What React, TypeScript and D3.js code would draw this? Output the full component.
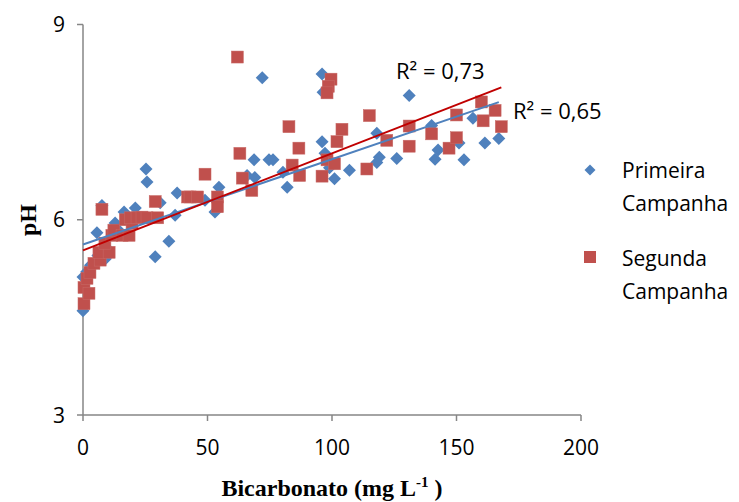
import React from "react";
import * as d3 from "d3";

const primeiraX = [0,0,1.5,3,5.6,7.6,9,6,10,12.9,14,16.5,18,21,25.3,25.7,29,31,34.5,37,37.8,49,53,54.6,65.9,69,68.7,72,74.7,76.3,80.3,82,96,96.4,96,97.2,99,101,107,118,119,118,126,131,140,142.6,141.4,151,153,156.6,161.4,167];
const primeiraY = [4.6,5.12,5.2,5.3,5.8,6.22,5.4,5.45,5.55,5.95,5.85,6.12,6.0,6.18,6.78,6.58,5.43,6.26,5.67,6.07,6.41,6.3,6.12,6.5,6.68,6.65,6.92,8.18,6.92,6.92,6.73,6.5,8.24,7.96,7.2,7.02,6.8,6.63,6.76,7.33,6.96,6.88,6.94,7.91,7.45,7.07,6.93,7.18,6.92,7.56,7.18,7.25];

const segundaX = [0.4,0.4,2.4,1.6,2.8,4.4,6.9,6.4,10.5,8.8,7.6,11.6,12.4,15.7,18.5,17,19.7,19,21.7,23.7,25.7,29,30,42,43,46,49,54,54,62,63,64,67.8,82.7,84,86.7,87,96,98,101,102,104,99.6,98.5,98,114,115,122,131,131,140,147,150,150,160,160.7,165.5,168];
const segundaY = [4.71,4.96,4.87,5.1,5.19,5.33,5.38,5.5,5.5,5.64,6.16,5.76,5.84,5.76,5.76,6.0,5.95,6.03,6.03,6.04,6.03,6.28,6.03,6.35,6.35,6.35,6.7,6.35,6.2,8.5,7.02,6.64,6.45,7.43,6.84,7.1,6.68,6.67,6.92,6.86,7.2,7.39,8.16,8.05,7.95,6.78,7.6,7.22,7.44,7.13,7.32,7.1,7.61,7.26,7.81,7.52,7.68,7.43];

// trend lines: [intercept, slope, xEnd]
const trendPrimeira = [5.62, 0.0131, 167];
const trendSegunda = [5.53, 0.0149, 168];

const xTicks = [0, 50, 100, 150, 200];
const yTicks = [3, 6, 9];
const seriesNames = ["Primeira Campanha", "Segunda Campanha"];
const r2Labels = ["R² = 0,65", "R² = 0,73"];

const W = 739, H = 502;
const left = 83, right = 581, top = 24.5, bottom = 415;
const BLUE = "#4F81BD", RED = "#C0504D";
const font = "'Open Sans', sans-serif";

export default function App() {
  const x = d3.scaleLinear().domain([0, 200]).range([left, right]);
  const y = d3.scaleLinear().domain([3, 9]).range([bottom, top]);
  const line = (t: number[]) => {
    const gen = d3.line<number>().x(v => x(v)).y(v => y(t[0] + t[1] * v));
    return gen([0, t[2]]) || "";
  };
  const diamond = (cx: number, cy: number, r = 6.5) =>
    `M${cx},${cy - r}L${cx + r},${cy}L${cx},${cy + r}L${cx - r},${cy}Z`;
  const sq = 12;
  return (
    <svg width={W} height={H} style={{ position: "absolute", left: 0, top: 0, background: "#fff" }}>
      {/* axes */}
      <line x1={left} x2={left} y1={top} y2={bottom} stroke="#868686" strokeWidth={1.5} />
      <line x1={left} x2={right} y1={bottom} y2={bottom} stroke="#868686" strokeWidth={1.5} />
      {yTicks.map(t => (
        <g key={t}>
          <line x1={left - 6} x2={left} y1={y(t)} y2={y(t)} stroke="#868686" strokeWidth={1.5} />
          <text x={left - 18} y={y(t)} dy="0.36em" textAnchor="end" fontFamily={font} fontSize={21}>{t}</text>
        </g>
      ))}
      {xTicks.map(t => (
        <g key={t}>
          <line x1={x(t)} x2={x(t)} y1={bottom} y2={bottom + 6} stroke="#868686" strokeWidth={1.5} />
          <text x={x(t)} y={455} textAnchor="middle" fontFamily={font} fontSize={21}>{t}</text>
        </g>
      ))}
      {/* points */}
      {primeiraX.map((v, i) => (
        <path key={"p" + i} d={diamond(x(v), y(primeiraY[i]))} fill={BLUE} />
      ))}
      {segundaX.map((v, i) => (
        <rect key={"s" + i} x={x(v) - sq / 2} y={y(segundaY[i]) - sq / 2} width={sq} height={sq} fill={RED} stroke="#c86a67" strokeWidth={0.5} />
      ))}
      {/* trend lines */}
      <path d={line(trendPrimeira)} stroke={BLUE} strokeWidth={2} fill="none" />
      <path d={line(trendSegunda)} stroke="#C00000" strokeWidth={2} fill="none" />
      <text x={396} y={79} fontFamily={font} fontSize={22}>{r2Labels[1]}</text>
      <text x={513} y={119} fontFamily={font} fontSize={22}>{r2Labels[0]}</text>
      {/* legend */}
      <path d={diamond(590, 170, 5.5)} fill={BLUE} />
      <text x={622} y={178} fontFamily={font} fontSize={21}>{seriesNames[0].split(" ")[0]}</text>
      <text x={622} y={211} fontFamily={font} fontSize={21}>{seriesNames[0].split(" ")[1]}</text>
      <rect x={584} y={251} width={12} height={12} fill={RED} />
      <text x={622} y={266} fontFamily={font} fontSize={21}>{seriesNames[1].split(" ")[0]}</text>
      <text x={622} y={299} fontFamily={font} fontSize={21}>{seriesNames[1].split(" ")[1]}</text>
      {/* axis titles */}
      <text x={332} y={496} textAnchor="middle" fontFamily="'Liberation Serif', serif" fontWeight="bold" fontSize={24}>
        Bicarbonato (mg L<tspan dy={-9} fontSize={15}>-1</tspan><tspan dy={9}> )</tspan>
      </text>
      <text transform={`translate(36,220) rotate(-90)`} textAnchor="middle" fontFamily="'Liberation Serif', serif" fontWeight="bold" fontSize={24}>pH</text>
    </svg>
  );
}
